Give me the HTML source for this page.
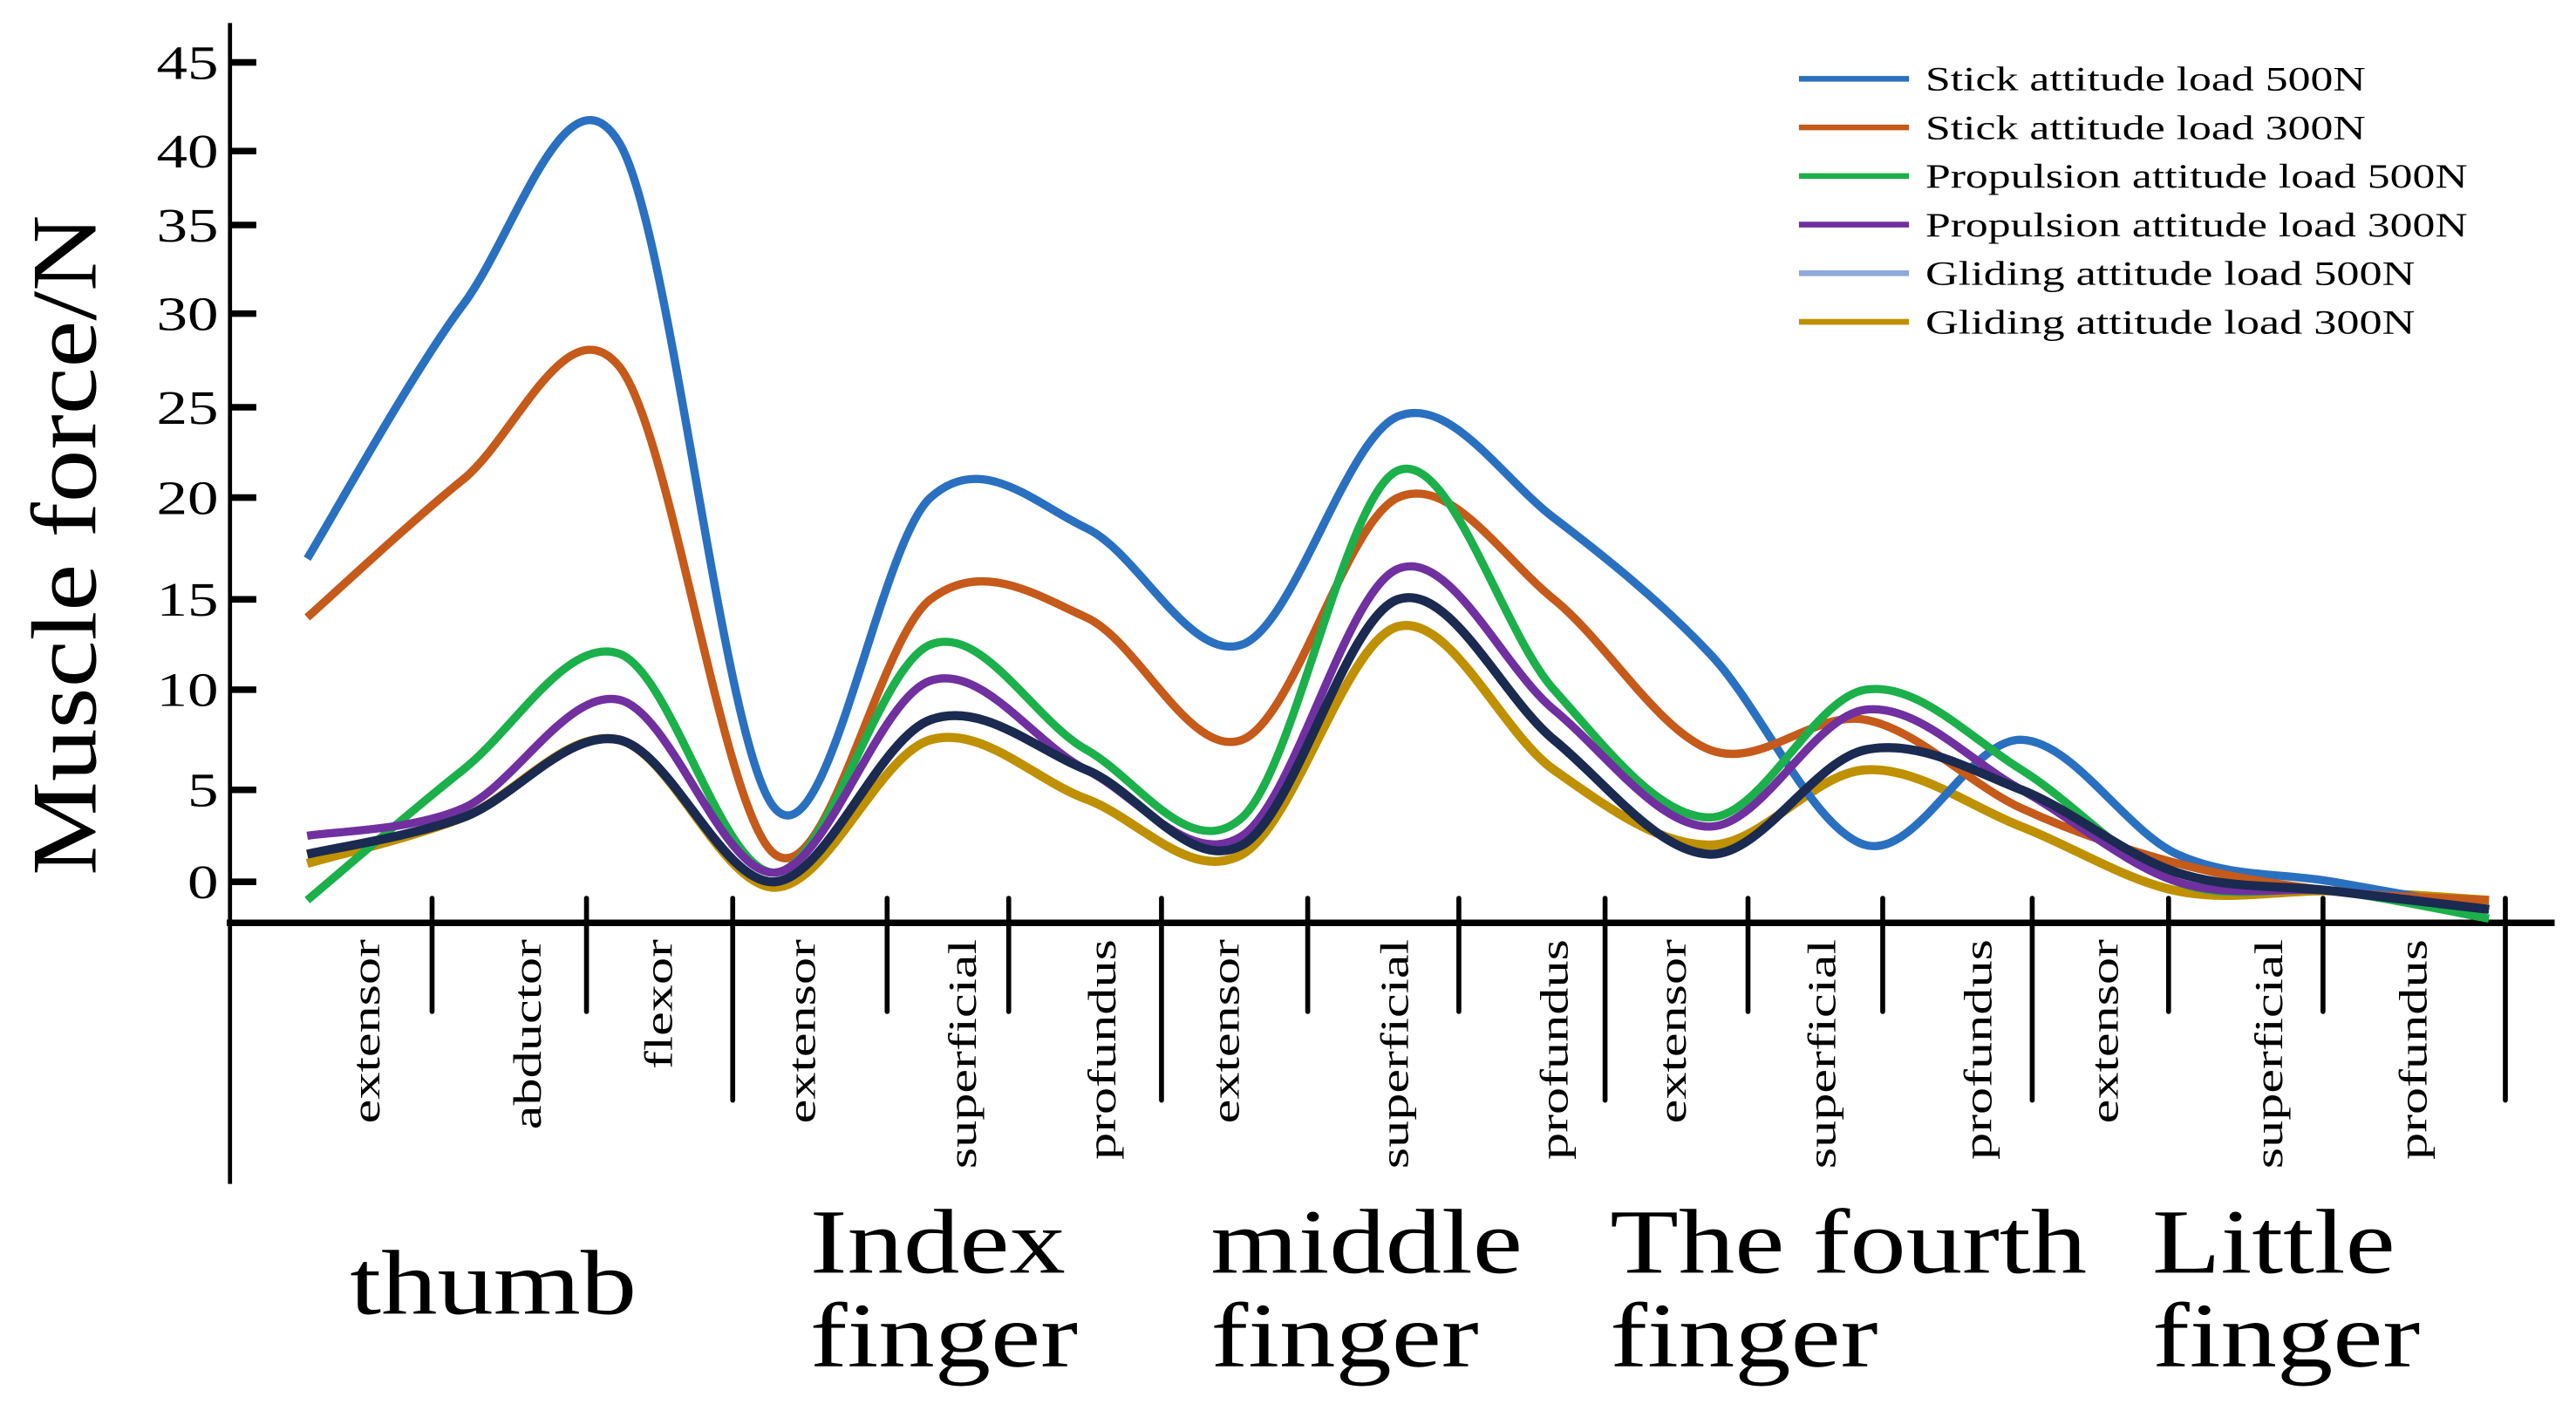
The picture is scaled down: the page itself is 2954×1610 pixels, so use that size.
<!DOCTYPE html>
<html><head><meta charset="utf-8"><style>
html,body{margin:0;padding:0;background:#fff}
svg{display:block}
text{font-family:"Liberation Serif",serif;fill:#000}
</style></head><body>
<svg id="chart" width="2954" height="1610" viewBox="0 0 1568 855" preserveAspectRatio="none" xmlns="http://www.w3.org/2000/svg">
<g id="axes"></g>
<g id="series"></g>
<g id="legend"></g>
<g id="labels"></g>
</svg>
<script>
const yTickValues = [0,5,10,15,20,25,30,35,40,45];
const yTickLabels = ["0","5","10","15","20","25","30","35","40","45"];
const categories = ["extensor","abductor","flexor","extensor","superficial","profundus","extensor","superficial","profundus","extensor","superficial","profundus","extensor","superficial","profundus"];
const groups = [["thumb"],["Index","finger"],["middle","finger"],["The fourth","finger"],["Little","finger"]];
const seriesNames = ["Stick attitude load 500N","Stick attitude load 300N","Propulsion attitude load 500N","Propulsion attitude load 300N","Gliding attitude load 500N","Gliding attitude load 300N"];
const stick500 = [17,30.5,40.5,4,20,18.5,12.5,24.5,19,12,2,7.5,1.5,0,-1.5];
const stick300 = [14,21,27.2,1.5,15,14,7.5,20,15,7,8.5,4,1,-0.5,-1];
const prop500 = [-1,6,12,0.5,12.5,7,3.5,21.5,10,3.5,10,6,0,-0.5,-2];
const prop300 = [2.5,4,9.5,0.5,10.5,6,2.5,16.5,9,3,9,5,0,-0.5,-1.5];
const glide500 = [1.5,3.5,7.5,0,8.5,6,2,15,7.5,1.5,7,5,0.5,-0.5,-1.5];
const glide300 = [1,3.5,7.5,-0.3,7.5,4.5,1.5,13.5,6,2,6,3,-0.5,-0.5,-1];

const NS="http://www.w3.org/2000/svg";
const tickPix=[537,481,420,365,303,248,191,137,92,38];
function yScale(v){
  if(v<=0) return 537-(v/5)*56;
  for(let i=0;i<yTickValues.length-1;i++){
    const a=yTickValues[i],b=yTickValues[i+1];
    if(v<=b||i===yTickValues.length-2){
      return tickPix[i]+(v-a)/(b-a)*(tickPix[i+1]-tickPix[i]);
    }
  }
}
function xScale(i){return 187+i*(1515-187)/(categories.length-1);}
function mk(tag,attrs,parent){const e=document.createElementNS(NS,tag);for(const k in attrs)e.setAttribute(k,attrs[k]);parent.appendChild(e);return e;}

const axes=document.getElementById('axes');
let e;
e=mk('line',{x1:140,y1:14,x2:140,y2:721,stroke:'#000','stroke-width':2.5},axes);


e=mk('line',{x1:138,y1:562,x2:1555,y2:562,stroke:'#000','stroke-width':4},axes);


yTickValues.forEach((v,i)=>{
  const y=yScale(v);
  const t=mk('line',{x1:140,y1:y,x2:156,y2:y,stroke:'#000','stroke-width':4},axes);
  
  
  const l=mk('text',{x:0,y:0,'text-anchor':'end','font-size':29,transform:`translate(133,${y+10}) scale(1.3,1)`},axes);
  l.textContent=yTickLabels[i];
  
  
});
const yt=mk('text',{x:0,y:0,'text-anchor':'middle','font-size':56,transform:'translate(58,332) rotate(-90) scale(1.15,1)'},axes);
yt.textContent='Muscle force/N';



const seps=[263,357,446,540,614,707,796,888,977,1064,1146,1237,1320,1414,1525];
const longSeps=[446,707,977,1237,1525];
seps.forEach(x=>{
  const s=mk('line',{x1:x,y1:547,x2:x,y2:longSeps.includes(x)?670:616,stroke:'#000','stroke-width':3,'stroke-linecap':'round'},axes);
  
  
});
const catX=[222,320,400,487,585,670,745,848,945,1017,1108,1203,1280,1380,1468];
const labels=document.getElementById('labels');
categories.forEach((c,i)=>{
  const t=mk('text',{x:0,y:0,'text-anchor':'end','font-size':24,transform:`translate(${catX[i]+9},572) rotate(-90) scale(1.38,1)`},labels);
  t.textContent=c;
  
  
});
const gPos=[[213,[800]],[493,[775,832]],[737,[775,832]],[980,[775,832]],[1310,[775,832]]];
groups.forEach((g,i)=>{
  g.forEach((w,j)=>{
    const t=mk('text',{x:0,y:0,'font-size':56,transform:`translate(${gPos[i][0]},${gPos[i][1][j]}) scale(1.22,1)`},labels);
    t.textContent=w;
    
    
  });
});

function path(vals){
  const p=vals.map((v,i)=>[xScale(i),yScale(v)]);
  let d=`M${p[0][0]},${p[0][1]}`;
  for(let i=0;i<p.length-1;i++){
    const p0=p[Math.max(0,i-1)],p1=p[i],p2=p[i+1],p3=p[Math.min(p.length-1,i+2)];
    const c1=[p1[0]+(p2[0]-p0[0])/6,p1[1]+(p2[1]-p0[1])/6];
    const c2=[p2[0]-(p3[0]-p1[0])/6,p2[1]-(p3[1]-p1[1])/6];
    d+=` C${c1[0]},${c1[1]} ${c2[0]},${c2[1]} ${p2[0]},${p2[1]}`;
  }
  return d;
}
const seriesData=[stick500,stick300,prop500,prop300,glide500,glide300];
const colors=['#2a70c0','#c55a1a','#1bb04a','#7030a0','#8fa9dc','#bf9000'];
const drawOrder=[5,4,0,1,2,3];
const sg=document.getElementById('series');
drawOrder.forEach(k=>{
  const p=mk('path',{d:path(seriesData[k]),fill:'none',stroke:colors[k],'stroke-width':k===5?5.5:5},sg);
  
  
});
const nv=mk('path',{d:path(glide500),fill:'none',stroke:'#1a2a50','stroke-width':5.5},sg);



const lg=document.getElementById('legend');
const legendLen=[268,268,330,330,298,298];
seriesNames.forEach((n,i)=>{
  const y=48+i*29.6;
  const l=mk('line',{x1:1095,y1:y,x2:1162,y2:y,stroke:colors[i],'stroke-width':3.5},lg);
  
  
  const t=mk('text',{x:1172,y:y+7,'font-size':21,textLength:legendLen[i],lengthAdjust:'spacingAndGlyphs'},lg);
  t.textContent=n;
  
  
});
</script>
</body></html>
